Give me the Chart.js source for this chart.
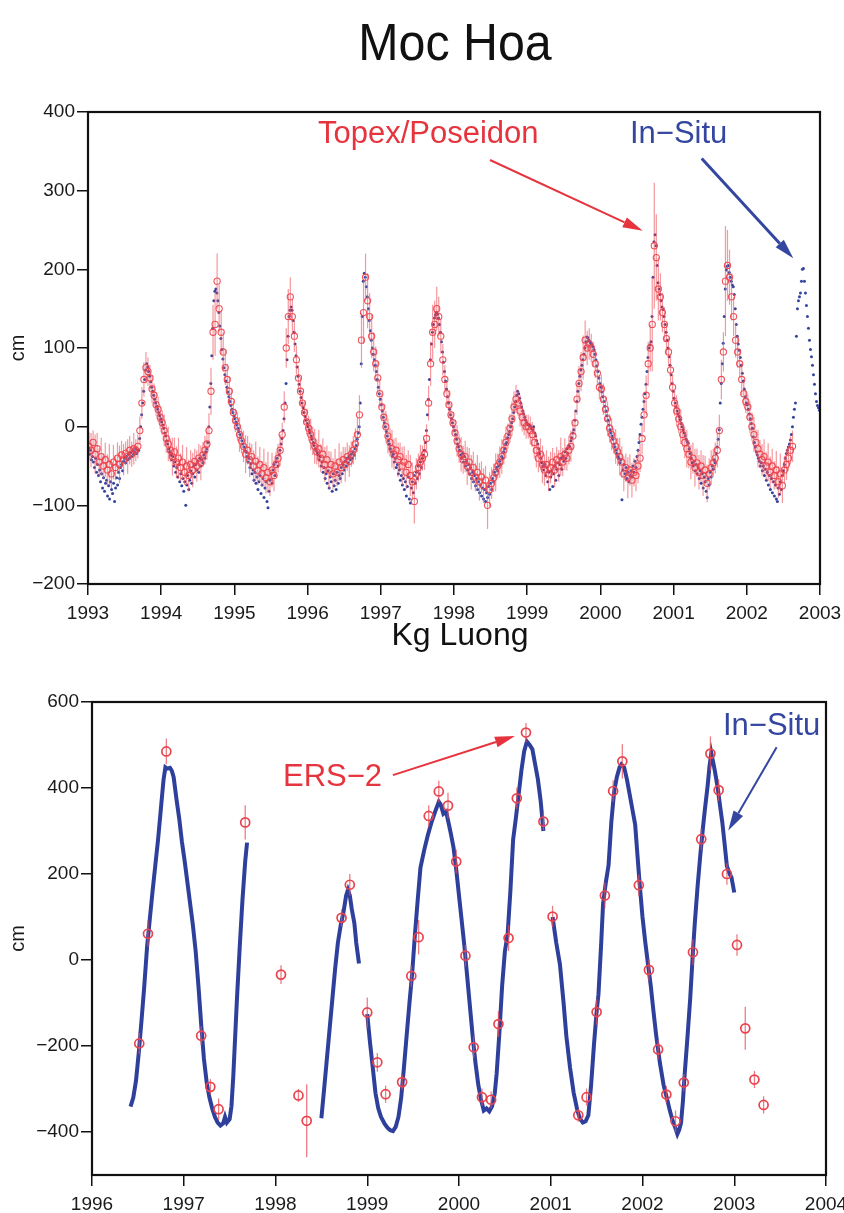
<!DOCTYPE html>
<html>
<head>
<meta charset="utf-8">
<title>Moc Hoa / Kg Luong</title>
<script src="https://cdn.jsdelivr.net/npm/chart.js@4.4.1/dist/chart.umd.min.js"></script>
<style>
  body { margin: 0; background: #fff; width: 844px; height: 1213px; overflow: hidden; position: relative;
         font-family: "Liberation Sans", Arial, Helvetica, sans-serif; }
  canvas { position: absolute; left: 0; }
  #mocHoa { top: 0; }
  #kgLuong { top: 650px; }
  .station { position: absolute; width: 400px; text-align: center; color: #111; line-height: 1; white-space: nowrap; z-index: 2; }
  #mocHoaTitle { left: 255px; top: 16px; font-size: 52px; transform: scaleX(0.93); }
  #kgLuongTitle { left: 260px; top: 618px; font-size: 32px; }
</style>
</head>
<body>
<div class="station" id="mocHoaTitle">Moc Hoa</div>
<div class="station" id="kgLuongTitle">Kg Luong</div>
<canvas id="mocHoa" width="844" height="624"></canvas>
<canvas id="kgLuong" width="844" height="563"></canvas>
<script>
// ---- Moc Hoa: gauge readings every 5 days (cm) ----
const inSitu1993 = [-28,-35,-30,-42,-38,-45,-52,-40,-58,-48,-62,-55,-70,-60,-78,-65,-82,-72,-68,-88,-75,-92,-70,-80,-85,-72,-95,-78,-65,-74,-58,-66,-52,-48,-56,-44,-40,-46,-38,-42,-35,-40,-33,-38,-30,-35,-32,-28,-34,-30,-30,-15,0,15,30,45,60,72,80,76,70,64,57,50,45,40,35,30,26,22,18,14,10];
const inSitu1994 = [6,2,-2,-8,-12,-18,-22,-28,-32,-36,-42,-38,-50,-45,-58,-52,-64,-48,-70,-60,-75,-66,-82,-70,-100,-74,-62,-80,-68,-56,-72,-60,-50,-64,-48,-55,-44,-58,-40,-50,-42,-46,-36,-40,-32,-28,-20,0,25,55,90,125,160,172,175,170,160,145,128,112,98,86,75,66,58,50,44,38,32,27,22,18,14];
const inSitu1995 = [10,6,2,-2,-6,-10,-14,-18,-22,-26,-30,-32,-38,-45,-40,-52,-47,-60,-55,-68,-58,-72,-64,-80,-70,-62,-85,-74,-66,-90,-78,-70,-95,-103,-82,-68,-60,-72,-55,-48,-62,-45,-40,-50,-36,-30,-22,-15,-5,10,30,55,85,115,140,148,152,148,135,120,105,90,76,64,54,45,37,30,24,18,13,8,4];
const inSitu1996 = [0,-4,-8,-12,-16,-20,-24,-28,-30,-33,-36,-42,-38,-50,-45,-58,-52,-66,-60,-72,-56,-78,-64,-70,-82,-60,-75,-68,-80,-58,-72,-62,-66,-52,-60,-48,-55,-44,-50,-40,-46,-38,-42,-35,-40,-32,-36,-28,-24,-16,-8,0,30,80,140,185,195,190,178,165,150,135,122,110,100,92,85,78,70,60,50,42,35];
const inSitu1997 = [28,20,12,5,0,-6,-12,-18,-22,-28,-32,-38,-35,-45,-40,-52,-48,-60,-55,-68,-62,-74,-66,-80,-70,-88,-76,-64,-92,-97,-78,-70,-84,-62,-72,-58,-66,-50,-60,-45,-52,-40,-36,-30,-20,-5,15,35,60,85,105,120,130,138,142,145,143,138,130,120,108,95,82,70,58,48,38,30,22,15,10,5,0];
const inSitu1998 = [-5,-10,-16,-22,-26,-30,-36,-40,-34,-45,-38,-50,-44,-55,-48,-60,-52,-66,-58,-70,-62,-75,-66,-80,-70,-84,-74,-88,-78,-92,-80,-95,-84,-90,-76,-86,-72,-80,-66,-70,-58,-62,-52,-56,-50,-44,-48,-38,-40,-32,-28,-22,-20,-14,-10,-6,0,5,10,18,25,32,40,45,42,36,30,25,20,16,12,8,5];
const inSitu1999 = [3,2,1,0,-2,-4,0,-8,-12,-18,-22,-28,-34,-40,-46,-50,-55,-48,-62,-52,-70,-58,-80,-64,-56,-76,-60,-50,-68,-54,-46,-62,-48,-40,-54,-38,-44,-32,-40,-28,-34,-24,-26,-18,-14,-8,-4,8,20,32,45,55,64,72,78,85,92,100,108,114,113,110,108,106,104,102,98,92,85,77,70,62,55];
const inSitu2000 = [50,44,38,32,26,20,14,8,2,-4,-8,-12,-16,-22,-26,-30,-34,-38,-40,-46,-42,-93,-55,-48,-60,-52,-66,-58,-70,-62,-56,-64,-50,-58,-44,-52,-38,-30,-20,-10,3,12,22,32,42,54,70,88,100,104,108,140,190,235,244,230,205,183,175,168,160,152,149,140,130,120,110,100,89,78,66,55,45];
const inSitu2001 = [36,30,25,20,16,13,9,4,0,-4,-8,-12,-16,-19,-21,-28,-34,-40,-46,-50,-44,-56,-48,-60,-52,-66,-56,-72,-60,-78,-64,-70,-82,-90,-66,-74,-58,-64,-50,-54,-42,-46,-34,-26,-16,-4,30,55,80,106,140,175,199,204,205,196,190,185,180,178,168,150,130,115,105,97,88,78,68,58,48,38,30];
const inSitu2002 = [28,22,16,10,4,-2,-13,-20,-26,-32,-36,-40,-44,-50,-46,-56,-50,-62,-54,-68,-58,-74,-62,-80,-66,-84,-70,-88,-74,-92,-95,-78,-86,-70,-80,-62,-56,-48,-40,-34,-30,-26,-22,-17,-10,0,12,22,30,115,150,160,165,170,185,200,201,185,170,154,140,125,110,98,89,78,66,54,42,32,27,24,21];

// ---- Moc Hoa: Topex/Poseidon 10-day passes (cm) and their error half-widths ----
const topex1993 = [-25,-30,-20,-35,-28,-45,-38,-50,-42,-55,-48,-60,-45,-52,-40,-48,-36,-42,-34,-38,-30,-35,-28,-30,-25,-5,30,60,75,70,62,48,40,28,22,12];
const topexErr1993 = [18,22,15,25,20,18,24,16,22,20,26,18,22,16,20,24,18,20,15,22,18,16,20,14,15,18,20,22,20,18,16,18,15,14,16,15];
const topex1994 = [5,-5,-15,-22,-30,-38,-32,-45,-40,-52,-45,-58,-50,-62,-48,-55,-44,-50,-40,-46,-36,-30,-22,-5,45,120,130,185,150,120,95,75,60,45,32,18];
const topexErr1994 = [16,20,18,22,15,24,18,20,26,18,22,16,24,20,18,22,16,20,18,22,16,18,20,22,30,35,40,35,30,28,25,22,20,18,16,15];
const topex1995 = [8,0,-10,-18,-25,-35,-30,-42,-38,-50,-44,-56,-48,-60,-52,-65,-58,-70,-55,-62,-48,-40,-30,-10,25,100,140,165,140,115,85,62,45,30,18,6];
const topexErr1995 = [15,18,22,16,20,24,18,22,16,20,25,18,22,16,24,20,26,18,22,20,16,18,20,15,20,25,35,25,22,20,18,16,18,15,14,16];
const topex1996 = [-2,-10,-18,-25,-32,-28,-40,-35,-48,-42,-55,-48,-60,-50,-58,-45,-52,-42,-48,-38,-44,-35,-30,-22,-10,15,110,145,190,160,140,115,95,80,62,42];
const topexErr1996 = [16,20,18,22,16,24,18,20,22,18,24,16,20,22,18,24,20,16,22,18,20,16,18,20,22,25,35,40,30,35,30,28,25,22,20,18];
const topex1997 = [25,12,0,-12,-20,-28,-35,-30,-42,-38,-50,-45,-58,-48,-62,-70,-95,-60,-52,-45,-40,-35,-15,30,80,120,130,150,140,115,85,60,42,28,15,5];
const topexErr1997 = [18,16,20,22,18,24,20,16,22,18,24,20,22,18,26,24,28,20,18,22,16,20,18,22,28,35,30,28,25,22,20,18,16,18,15,14];
const topex1998 = [-8,-18,-28,-35,-42,-38,-50,-45,-58,-52,-64,-58,-70,-64,-75,-68,-100,-80,-72,-65,-58,-50,-45,-38,-30,-20,-12,-2,10,25,35,30,20,12,5,0];
const topexErr1998 = [16,20,18,22,18,20,24,18,22,20,18,22,24,20,22,18,30,22,20,18,24,16,20,22,18,20,16,18,22,20,18,16,20,18,16,15];
const topex1999 = [0,-5,-10,-20,-30,-40,-35,-48,-55,-48,-60,-52,-45,-55,-42,-50,-38,-45,-35,-40,-30,-25,-12,5,35,55,70,88,110,100,105,100,92,80,68,50];
const topexErr1999 = [15,18,16,20,22,18,20,24,20,18,22,20,18,22,16,20,24,18,20,16,18,20,18,16,20,22,25,28,25,22,20,18,16,18,16,15];
const topex2000 = [48,35,22,10,-2,-10,-18,-25,-32,-38,-45,-60,-52,-65,-55,-68,-58,-62,-50,-40,-15,15,40,80,100,130,230,215,175,165,145,130,112,95,72,50];
const topexErr2000 = [18,20,16,22,18,20,16,22,18,24,20,22,18,26,20,22,18,20,22,18,20,22,25,28,30,60,80,55,40,30,25,22,20,18,20,16];
const topex2001 = [30,20,10,0,-10,-20,-28,-35,-45,-40,-52,-46,-58,-50,-62,-55,-72,-60,-52,-46,-40,-30,-5,60,95,185,205,190,165,140,110,95,80,60,42,32];
const topexErr2001 = [16,20,18,22,16,20,24,18,22,20,24,18,22,20,26,18,24,20,22,18,20,22,20,25,25,70,45,35,30,25,22,20,18,20,16,15];
const topex2002 = [25,12,0,-10,-20,-28,-35,-42,-38,-50,-45,-58,-50,-62,-55,-70,-60,-75,-55,-48,-40,-30,-25];
const topexErr2002 = [16,20,18,22,16,24,18,20,22,18,24,20,22,18,24,20,26,22,18,20,16,18,20];

const mocHoaYearTicks = [1993, 1994, 1995, 1996, 1997, 1998, 1999, 2000, 2001, 2002, 2003];
const mocHoaLevelTicks = [-200, -100, 0, 100, 200, 300, 400];

// ---- Kg Luong: gauge record (cm), null marks a gap in the record ----
const kgGaugeYears = [
  1996.42,1996.45,1996.48,1996.51,1996.54,1996.57,1996.60,1996.63,1996.66,1996.69,1996.72,1996.75,1996.78,1996.80,1996.82,1996.85,1996.87,1996.89,1996.92,1996.95,1996.98,
  1997.01,1997.04,1997.07,1997.10,1997.13,1997.16,1997.19,1997.22,1997.25,1997.28,1997.31,1997.34,1997.37,1997.40,1997.43,1997.45,1997.47,1997.50,1997.52,1997.54,1997.56,1997.58,1997.61,1997.64,1997.67,1997.69,
  1998.00,
  1998.50,1998.53,1998.56,1998.59,1998.62,1998.65,1998.68,1998.71,1998.74,1998.77,1998.79,1998.81,1998.83,1998.86,1998.88,1998.91,
  1998.95,
  1999.00,1999.03,1999.06,1999.09,1999.12,1999.15,1999.19,1999.22,1999.25,1999.28,1999.31,1999.34,1999.37,1999.40,1999.43,1999.46,1999.49,1999.52,1999.55,1999.58,1999.62,1999.66,1999.70,1999.74,1999.78,1999.80,1999.83,1999.86,1999.88,1999.91,1999.94,1999.97,
  2000.00,2000.03,2000.06,2000.09,2000.12,2000.15,2000.18,2000.21,2000.24,2000.27,2000.30,2000.33,2000.36,2000.39,2000.41,2000.44,2000.47,2000.50,2000.53,2000.56,2000.59,2000.62,2000.65,2000.68,2000.71,2000.74,2000.77,2000.80,2000.83,2000.86,2000.89,2000.92,
  2000.97,
  2001.02,2001.06,2001.10,2001.14,2001.17,2001.21,2001.25,2001.29,2001.32,2001.35,2001.38,2001.41,2001.44,2001.47,2001.50,2001.52,2001.55,2001.57,2001.60,2001.63,2001.66,2001.69,2001.72,2001.75,2001.77,2001.80,2001.83,2001.86,2001.89,2001.92,2001.95,2001.97,
  2002.00,2002.03,2002.06,2002.09,2002.12,2002.15,2002.19,2002.23,2002.27,2002.30,2002.33,2002.36,2002.38,2002.40,2002.42,2002.44,2002.46,2002.49,2002.52,2002.55,2002.57,2002.60,2002.63,2002.66,2002.68,2002.71,2002.73,2002.75,2002.77,2002.79,2002.82,2002.84,2002.87,2002.89,2002.92,2002.95,2002.97,2003.00
];
const kgGaugeLevels = [
  -341,-320,-280,-215,-140,-60,30,95,160,220,280,350,420,448,445,447,440,425,375,330,275,
  230,180,130,80,20,-60,-150,-230,-285,-320,-345,-365,-378,-385,-380,-365,-378,-370,-340,-270,-180,-90,30,140,230,273,
  null,
  -368,-300,-230,-160,-90,-20,40,80,110,150,163,150,120,85,40,-8,
  null,
  -126,-192,-250,-310,-345,-365,-381,-390,-396,-398,-388,-365,-320,-250,-174,-100,-30,60,140,215,255,290,320,345,368,362,340,345,325,295,262,210,
  150,90,30,-40,-110,-180,-240,-290,-325,-350,-345,-352,-340,-310,-265,-170,-60,20,60,160,280,330,385,440,485,508,500,490,455,420,370,300,
  null,
  100,40,-10,-100,-177,-250,-309,-350,-370,-378,-375,-361,-290,-200,-120,-80,40,130,180,220,320,390,425,448,455,448,420,385,350,315,230,174,
  100,42,-10,-60,-120,-177,-240,-291,-325,-352,-375,-392,-405,-395,-379,-330,-265,-180,-89,20,86,170,244,310,350,405,450,481,460,438,400,367,320,280,218,200,192,157
];

// ---- Kg Luong: ERS-2 altimetry (cm) with error half-widths ----
const ersYears = [1996.515,1996.61,1996.81,1997.19,1997.29,1997.38,1997.67,1998.06,1998.25,1998.34,1998.72,1998.81,1999.00,1999.11,1999.20,1999.38,1999.48,1999.56,1999.67,1999.78,1999.88,1999.97,2000.07,2000.16,2000.25,2000.35,2000.43,2000.54,2000.63,2000.73,2000.92,2001.02,2001.30,2001.39,2001.50,2001.59,2001.68,2001.78,2001.96,2002.07,2002.17,2002.26,2002.36,2002.45,2002.55,2002.64,2002.74,2002.83,2002.92,2003.03,2003.12,2003.22,2003.32];
const ersLevels = [-194,61,485,-176,-295,-347,320,-34,-315,-374,98,175,-122,-238,-312,-284,-37,53,335,392,359,229,10,-203,-319,-325,-149,51,376,529,322,101,-361,-319,-121,150,393,462,174,-23,-208,-313,-375,-285,18,281,480,395,200,35,-159,-278,-337];
const ersErr = [25,30,30,22,18,25,40,22,15,85,20,25,35,22,20,18,25,40,25,25,30,28,25,25,20,20,30,30,25,22,20,25,15,20,30,30,25,40,25,25,22,20,25,20,30,25,40,25,25,25,50,20,20];

const kgYearTicks = [1996, 1997, 1998, 1999, 2000, 2001, 2002, 2003, 2004];
const kgLevelTicks = [-400, -200, 0, 200, 400, 600];

const RED = '#e6343e';
const BLUE = '#34469f';
const FONT = '"Liberation Sans", Arial, Helvetica, sans-serif';

function gaugePoints(year, values) {
  return values.map((v, j) => ({ x: year + (5 * j + 2.5) / 365, y: v }));
}
function passPoints(year, values) {
  return values.map((v, k) => ({ x: year + (k + 0.5) / 36, y: v }));
}

const inSituYears = [
  [1993, inSitu1993], [1994, inSitu1994], [1995, inSitu1995], [1996, inSitu1996], [1997, inSitu1997],
  [1998, inSitu1998], [1999, inSitu1999], [2000, inSitu2000], [2001, inSitu2001], [2002, inSitu2002]
];
const topexYears = [
  [1993, topex1993, topexErr1993], [1994, topex1994, topexErr1994], [1995, topex1995, topexErr1995],
  [1996, topex1996, topexErr1996], [1997, topex1997, topexErr1997], [1998, topex1998, topexErr1998],
  [1999, topex1999, topexErr1999], [2000, topex2000, topexErr2000], [2001, topex2001, topexErr2001],
  [2002, topex2002, topexErr2002]
];

const mocHoaGauge = inSituYears.flatMap(([yr, vals]) => gaugePoints(yr, vals));
const mocHoaTopex = topexYears.flatMap(([yr, vals]) => passPoints(yr, vals));
const mocHoaTopexErr = topexYears.flatMap(([, , err]) => err);

const kgGauge = kgGaugeYears.map((x, i) => ({ x, y: kgGaugeLevels[i] }));
const kgErs = ersYears.map((x, i) => ({ x, y: ersLevels[i] }));

// vertical error bars, drawn just before the dataset's own markers
const errorBars = {
  id: 'errorBars',
  beforeDatasetDraw(chart, args) {
    const ds = chart.data.datasets[args.index];
    if (!ds.errors) return;
    const { ctx, chartArea, scales: { x, y } } = chart;
    ctx.save();
    ctx.beginPath();
    ctx.rect(chartArea.left, chartArea.top, chartArea.width, chartArea.height);
    ctx.clip();
    ctx.strokeStyle = ds.errorColor;
    ctx.lineWidth = ds.errorWidth;
    ds.data.forEach((p, i) => {
      const px = x.getPixelForValue(p.x);
      ctx.beginPath();
      ctx.moveTo(px, y.getPixelForValue(p.y - ds.errors[i]));
      ctx.lineTo(px, y.getPixelForValue(p.y + ds.errors[i]));
      ctx.stroke();
    });
    ctx.restore();
  }
};

// closed box around the plot
const frame = {
  id: 'frame',
  afterDraw(chart) {
    const { ctx, chartArea: a } = chart;
    ctx.save();
    ctx.strokeStyle = '#111';
    ctx.lineWidth = 2.2;
    ctx.strokeRect(a.left, a.top, a.width, a.height);
    ctx.restore();
  }
};

// series labels with arrows, placed in data coordinates
const callouts = {
  id: 'callouts',
  afterDatasetsDraw(chart, args, opts) {
    const { ctx, scales: { x, y } } = chart;
    ctx.save();
    ctx.font = '31px ' + FONT;
    ctx.textAlign = 'left';
    ctx.textBaseline = 'middle';
    (opts.labels || []).forEach(l => {
      ctx.fillStyle = l.color;
      ctx.fillText(l.text, x.getPixelForValue(l.at[0]), y.getPixelForValue(l.at[1]));
    });
    (opts.arrows || []).forEach(a => {
      const x0 = x.getPixelForValue(a.from[0]), y0 = y.getPixelForValue(a.from[1]);
      const x1 = x.getPixelForValue(a.to[0]), y1 = y.getPixelForValue(a.to[1]);
      const ang = Math.atan2(y1 - y0, x1 - x0);
      const head = 20, half = 5.5;
      const bx = x1 - head * Math.cos(ang), by = y1 - head * Math.sin(ang);
      ctx.strokeStyle = a.color;
      ctx.fillStyle = a.color;
      ctx.lineWidth = a.width;
      ctx.beginPath();
      ctx.moveTo(x0, y0);
      ctx.lineTo(bx, by);
      ctx.stroke();
      ctx.beginPath();
      ctx.moveTo(x1, y1);
      ctx.lineTo(bx + half * Math.sin(ang), by - half * Math.cos(ang));
      ctx.lineTo(bx - half * Math.sin(ang), by + half * Math.cos(ang));
      ctx.closePath();
      ctx.fill();
    });
    ctx.restore();
  }
};

function axes(o) {
  const tickFont = { family: FONT, size: 19 };
  const grid = { drawOnChartArea: false, drawTicks: true, tickLength: 11, color: '#111', lineWidth: 1.5 };
  return {
    x: {
      type: 'linear', min: o.xTicks[0], max: o.xTicks[o.xTicks.length - 1],
      grid, border: { display: false },
      afterBuildTicks: s => { s.ticks = o.xTicks.map(v => ({ value: v })); },
      afterFit: s => { s.height = o.xHeight; s.paddingLeft = 0; s.paddingRight = 0; },
      ticks: { autoSkip: false, maxRotation: 0, padding: 7, color: '#1a1a1a', font: tickFont, callback: v => String(v) }
    },
    y: {
      type: 'linear', min: o.yMin, max: o.yMax,
      grid, border: { display: false },
      afterBuildTicks: s => { s.ticks = o.yTicks.map(v => ({ value: v })); },
      afterFit: s => { s.width = o.yWidth; s.paddingTop = 0; s.paddingBottom = 0; },
      title: { display: true, text: 'cm', color: '#1a1a1a', font: { family: FONT, size: 20 }, padding: { top: 6, bottom: 0 } },
      ticks: { padding: 2, color: '#1a1a1a', font: tickFont, callback: v => String(v).replace('-', '\u2212') }
    }
  };
}

const common = {
  responsive: false,
  animation: false,
  devicePixelRatio: 1,
  events: []
};

new Chart(document.getElementById('mocHoa'), {
  type: 'scatter',
  data: {
    datasets: [
      {
        label: 'Topex/Poseidon',
        data: mocHoaTopex,
        errors: mocHoaTopexErr,
        errorColor: 'rgba(238,88,98,0.62)',
        errorWidth: 1.2,
        pointRadius: 3.1,
        pointBorderWidth: 1.1,
        pointBackgroundColor: 'rgba(0,0,0,0)',
        pointBorderColor: 'rgba(236,64,74,0.9)'
      },
      {
        label: 'In-Situ',
        data: mocHoaGauge,
        pointRadius: 1.5,
        pointBorderWidth: 0,
        pointBackgroundColor: '#34449e'
      }
    ]
  },
  options: {
    ...common,
    layout: { padding: { top: 112, right: 24, bottom: 0, left: 0 } },
    scales: axes({ xTicks: mocHoaYearTicks, yTicks: mocHoaLevelTicks, yMin: -200, yMax: 400, xHeight: 40, yWidth: 88 }),
    plugins: {
      legend: { display: false },
      tooltip: { enabled: false },
      callouts: {
        labels: [
          { text: 'Topex/Poseidon', color: RED, at: [1996.142, 371] },
          { text: 'In\u2212Situ', color: BLUE, at: [2000.404, 371] }
        ],
        arrows: [
          { from: [1998.492, 339], to: [2000.578, 249], color: RED, width: 2 },
          { from: [2001.384, 341], to: [2002.635, 214], color: BLUE, width: 3 }
        ]
      }
    }
  },
  plugins: [errorBars, frame, callouts]
});

new Chart(document.getElementById('kgLuong'), {
  type: 'scatter',
  data: {
    datasets: [
      {
        label: 'ERS-2',
        data: kgErs,
        errors: ersErr,
        errorColor: 'rgba(232,80,90,0.75)',
        errorWidth: 1.3,
        pointRadius: 4.5,
        pointBorderWidth: 1.7,
        pointBackgroundColor: 'rgba(0,0,0,0)',
        pointBorderColor: '#e8444e'
      },
      {
        label: 'In-Situ',
        data: kgGauge,
        showLine: true,
        spanGaps: false,
        borderColor: '#2f3f9c',
        borderWidth: 4,
        pointRadius: 0
      }
    ]
  },
  options: {
    ...common,
    layout: { padding: { top: 52, right: 18, bottom: 0, left: 0 } },
    scales: axes({ xTicks: kgYearTicks, yTicks: kgLevelTicks, yMin: -500, yMax: 600, xHeight: 38, yWidth: 92 }),
    plugins: {
      legend: { display: false },
      tooltip: { enabled: false },
      callouts: {
        labels: [
          { text: 'ERS\u22122', color: RED, at: [1998.082, 424] },
          { text: 'In\u2212Situ', color: BLUE, at: [2002.877, 542] }
        ],
        arrows: [
          { from: [1999.28, 430], to: [2000.61, 521], color: RED, width: 2 },
          { from: [2003.462, 495], to: [2002.935, 301], color: BLUE, width: 2 }
        ]
      }
    }
  },
  plugins: [errorBars, frame, callouts]
});
</script>
</body>
</html>
